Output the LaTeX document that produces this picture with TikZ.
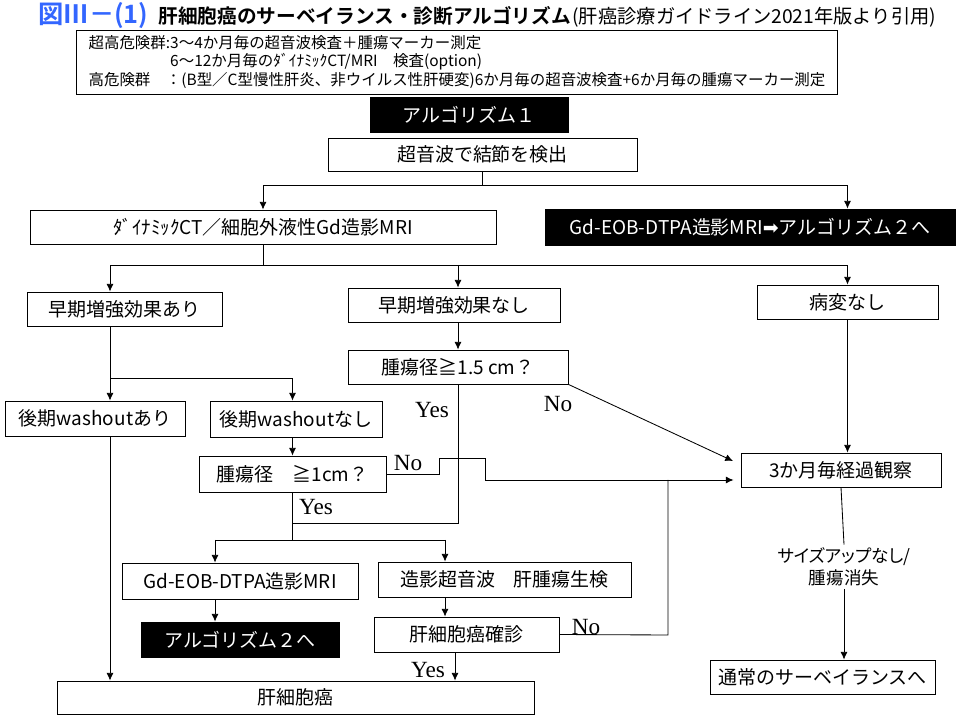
\documentclass[tikz,border=0pt]{standalone}
\usepackage{fontspec}
\usepackage{tikz}
\usetikzlibrary{arrows.meta}
\newfontfamily\jp{Noto Sans CJK JP}[BoldFont={Noto Sans CJK JP Bold}]
\newfontfamily\jpp{Noto Sans CJK JP}[RawFeature=+palt]
\newfontfamily\tms{Liberation Serif}
\newfontfamily\sym{DejaVu Sans}
\definecolor{figblue}{RGB}{51,102,255}
\tikzset{box/.style={draw,line width=0.6pt,inner sep=0pt,minimum height=0.85cm,font=\jp\fontsize{13.5}{16}\selectfont}}
\tikzset{blk/.style={box,fill=black,text=white}}
\tikzset{yn/.style={inner sep=0pt,font=\tms\fontsize{16.5}{17}\selectfont}}
\tikzset{>={Latex[length=5.5pt,width=5pt]}}

\begin{document}
\begin{tikzpicture}[x=0.025cm,y=-0.025cm,line width=0.6pt]
  \useasboundingbox (0,0) rectangle (960,720);
  \node[anchor=base west,inner sep=0pt,text=figblue,font=\jp\bfseries\fontsize{18}{18}\selectfont] (fig) at (38,24) {図Ⅲ－(1)};
  \node[anchor=base west,inner sep=0pt,font=\jp\bfseries\fontsize{14}{14}\selectfont] (ttl) at (158,24) {肝細胞癌のサーベイランス・診断アルゴリズム};
  \node[anchor=base west,inner sep=0pt,font=\jp\fontsize{13.7}{14}\selectfont] (src) at (572,24) {(肝癌診療ガイドライン2021年版より引用)};
  \node[box,minimum width=19cm,minimum height=1.6cm,align=left,font=\jp\fontsize{11}{13.2}\selectfont] (risk) at (457,62)
    {超高危険群:3〜4か月毎の超音波検査＋腫瘍マーカー測定\\
     \phantom{超高危険群:}6〜12か月毎のﾀﾞｲﾅﾐｯｸCT/MRI　検査(option)\\
     高危険群　：(B型／C型慢性肝炎、非ウイルス性肝硬変)6か月毎の超音波検査+6か月毎の腫瘍マーカー測定};
  \node[blk,minimum width=4.95cm,minimum height=0.875cm] (alg1) at (469,114.5) {アルゴリズム１};
  \node[box,minimum width=7.725cm,minimum height=0.825cm] (us) at (482.5,154.5) {超音波で結節を検出};
  \node[box,minimum width=11.65cm] (dyn) at (263,227) {ﾀﾞｲﾅﾐｯｸCT／細胞外液性Gd造影MRI};
  \node[blk,minimum width=10.25cm,minimum height=0.9cm] (eob) at (750,227) {Gd-EOB-DTPA造影MRI{\sym ➡}アルゴリズム２へ};
  \node[box,minimum width=4.875cm] (early_yes) at (124.5,309) {早期増強効果あり};
  \node[box,minimum width=5.3cm] (early_no) at (454,305) {早期増強効果なし};
  \node[box,minimum width=4.525cm] (nolesion) at (847.5,302) {病変なし};
  \node[box,minimum width=5.5cm] (size15) at (458,367) {腫瘍径≧1.5 cm？};
  \node[box,minimum width=4.5cm,minimum height=0.875cm] (wash_yes) at (95,418.5) {後期washoutあり};
  \node[box,minimum width=4.3cm,minimum height=0.9cm] (wash_no) at (296,419) {後期washoutなし};
  \node[box,minimum width=4.675cm,minimum height=0.9cm] (size1) at (292.5,474) {腫瘍径　≧1cm？};
  \node[box,minimum width=5.9cm,minimum height=0.9cm] (eobmri) at (240,581) {Gd-EOB-DTPA造影MRI};
  \node[box,minimum width=6.325cm,minimum height=0.875cm] (ceus) at (504.5,579.5) {造影超音波　肝腫瘍生検};
  \node[blk,minimum width=4.95cm,minimum height=0.875cm] (alg2) at (240,639.5) {アルゴリズム２へ};
  \node[box,minimum width=4.625cm,minimum height=0.875cm] (confirm) at (466.5,634.5) {肝細胞癌確診};
  \node[box,minimum width=11.925cm,minimum height=0.825cm] (hcc) at (295.5,697.5) {肝細胞癌};
  \node[box,minimum width=5cm] (watch) at (841,470) {3か月毎経過観察};
  \node[box,minimum width=5.625cm] (normal) at (822.5,677) {通常のサーベイランスへ};
  \node[align=center,inner sep=2pt,font=\jpp\fontsize{12.5}{15.6}\selectfont] (lbl) at (844,567) {サイズアップなし/\\腫瘍消失};

  \node[yn] (yes1) at (432,410) {Yes};
  \node[yn] (no1) at (558,404) {No};
  \node[yn] (no2) at (408,463) {No};
  \node[yn] (yes2) at (316,507) {Yes};
  \node[yn] (no3) at (586,627) {No};
  \node[yn] (yes3) at (428,670) {Yes};

  \coordinate (s1) at (482.5,185);
  \coordinate (s2) at (263,265);
  \coordinate (s3) at (110,378);
  \coordinate (s4) at (458,523);
  \coordinate (s5) at (292.5,540);
  \coordinate (s6) at (215,540);
  \coordinate (s7) at (445,540);
  \coordinate (s8) at (455,660);
  \coordinate (s9) at (485,480);
  \coordinate (s10) at (668,635);
  \coordinate (h1) at (439,458);
  \coordinate (h2) at (485,458);
  \coordinate (t1) at (733,461);

  \draw (us.south) -- (s1);
  \draw[->] (s1) -| (dyn.north);
  \draw[->] (s1) -| (eob.north -| nolesion);
  \draw (dyn.south) -- (s2);
  \draw[->] (s2) -| (early_yes.north -| s3);
  \draw[->] (s2) -| (nolesion.north);
  \draw[->] (s2 -| size15) -- (early_no.north -| size15);
  \draw[->] (early_no.south -| size15) -- (size15.north);
  \draw (early_yes.south -| s3) -- (s3);
  \draw[->] (s3) -- (wash_yes.north -| s3);
  \draw[->] (s3) -| (wash_no.north -| size1);
  \draw[->] (wash_no.south -| size1) -- (size1.north);
  \draw[->] (wash_yes.south -| s3) -- (hcc.north -| s3);
  \draw (size15.south) -- (s4) -- (s4 -| size1);
  \draw (size1.south) -- (s5);
  \draw (s6) -- (s7);
  \draw[->] (s6) -- (eobmri.north -| s6);
  \draw[->] (s7) -- (ceus.north -| s7);
  \draw[->] (eobmri.south -| s6) -- (alg2.north -| s6);
  \draw[->] (ceus.south -| s7) -- (confirm.north -| s7);
  \draw[->] (confirm.south -| s8) -- (hcc.north -| s8);
  \draw[->] (size15.south east) -- (t1);
  \draw[->,shorten >=5pt] (size1.east) -| (h1) -- (h2) -- (s9) -- (s9 -| watch.west);
  \draw (confirm.east) -- (s10) -- (s10 |- s9);
  \draw[->] (nolesion.south) -- (watch.north -| nolesion);
  \draw (watch.south) -- (lbl.north);
  \draw[->] (lbl.south) -- (normal.north -| lbl);
\end{tikzpicture}
\end{document}
